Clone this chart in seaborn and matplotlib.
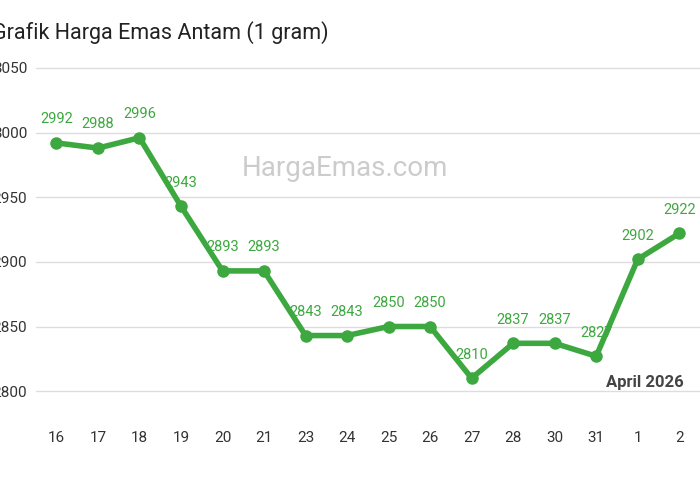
import matplotlib
matplotlib.use("Agg")
import matplotlib.pyplot as plt
import seaborn as sns
import pandas as pd

days = ["16","17","18","19","20","21","23","24","25","26","27","28","30","31","1","2"]
prices = [2992,2988,2996,2943,2893,2893,2843,2843,2850,2850,2810,2837,2837,2827,2902,2922]
yticks = [2800,2850,2900,2950,3000,3050]

sns.set_style("white")
plt.rcParams['font.family'] = ['Roboto', 'DejaVu Sans']
df = pd.DataFrame({"x": range(len(days)), "y": prices})
fig = plt.figure(figsize=(7,5), dpi=100)
ax = fig.add_axes([0.051, 0.166, 0.949, 0.724])
green = "#3da83f"
sns.lineplot(data=df, x="x", y="y", ax=ax, color=green, lw=4, marker="o", markersize=9,
             markeredgewidth=0, zorder=3)
for i, v in enumerate(prices):
    ax.annotate(str(v), (i, v), xytext=(0, 12), textcoords="offset points",
                ha="center", va="bottom", color=green, fontsize=10.5)
ax.set_xlim(-0.5, 15.5)
ax.set_ylim(2780, 3060)
ax.set_xticks(range(len(days)))
ax.set_xticklabels(days)
ax.set_yticks(yticks)
ax.set_yticklabels([str(t) for t in yticks])
ax.tick_params(axis="both", length=0, labelsize=11, colors="#333333")
ax.tick_params(axis="x", pad=10)
ax.tick_params(axis="y", pad=6)
ax.grid(axis="y", color="#dddddd", lw=1)
for s in ax.spines.values():
    s.set_visible(False)
ax.set_xlabel(""); ax.set_ylabel("")
fig.text(-0.012, 0.935, "Grafik Harga Emas Antam (1 gram)", fontsize=15.5, color="#222222", va="center")
fig.text(0.493, 0.664, "HargaEmas.com", fontsize=20, color="#cccccc", ha="center", va="center")
fig.text(0.921, 0.236, "April 2026", fontsize=12, color="#444444", ha="center", va="center", fontweight="bold")
fig.savefig("out.png", dpi=100)
